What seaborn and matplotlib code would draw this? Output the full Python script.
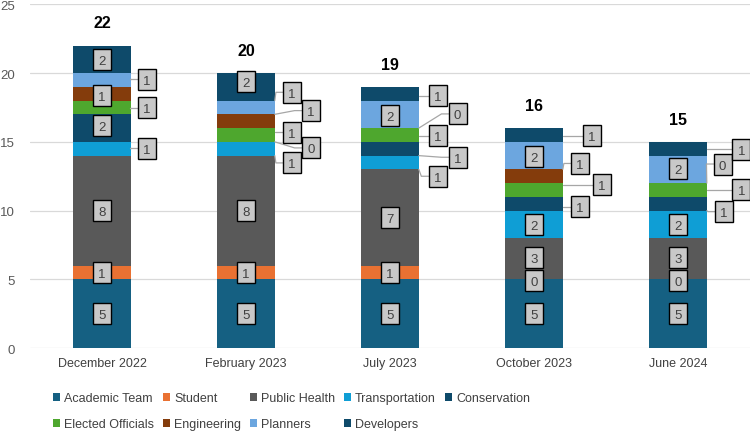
import numpy as np
import matplotlib
matplotlib.use("Agg")
import matplotlib.pyplot as plt
import matplotlib.patches as mpatches
import matplotlib.transforms as mtransforms
import seaborn as sns

# data
months = ["December 2022", "February 2023", "July 2023", "October 2023", "June 2024"]
groups = ["Academic Team", "Student", "Public Health", "Transportation", "Conservation",
          "Elected Officials", "Engineering", "Planners", "Developers"]
academic = [5, 5, 5, 5, 5]
student = [1, 1, 1, 0, 0]
public_health = [8, 8, 7, 3, 3]
transportation = [1, 1, 1, 2, 2]
conservation = [2, 0, 1, 1, 1]
elected = [1, 1, 1, 1, 1]
engineering = [1, 1, 0, 1, 0]
planners = [1, 1, 2, 2, 2]
developers = [2, 2, 1, 1, 1]

colors = ["#156082", "#E97132", "#595959", "#0F9ED5", "#0E4A6A",
          "#4EA72E", "#843C0C", "#6CA6DF", "#0E4A6A"]

# label placement: (x offset from bar centre, y) -- offset 0 means inside the bar
label_pos = [
    [(0, 2.5), (0, 2.5), (0, 2.5), (0, 2.5), (0, 2.5)],
    [(0, 5.5), (0, 5.5), (0, 5.5), (0, 4.9), (0, 4.9)],
    [(0, 10), (0, 10), (0, 9.5), (0, 6.6), (0, 6.6)],
    [(0.31, 14.55), (0.32, 13.47), (0.33, 12.5), (0, 9.0), (0, 9.0)],
    [(0, 16.2), (0.45, 14.56), (0.47, 13.88), (0.32, 10.28), (0.32, 9.93)],
    [(0.31, 17.46), (0.32, 15.68), (0.33, 15.45), (0.47, 11.87), (0.44, 11.53)],
    [(0, 18.4), (0.45, 17.27), (0.47, 17.03), (0.32, 13.43), (0.31, 13.39)],
    [(0.31, 19.55), (0.32, 18.6), (0, 16.9), (0, 13.95), (0, 13.03)],
    [(0, 21), (0, 19.35), (0.33, 18.36), (0.40, 15.45), (0.44, 14.48)],
]

series = [academic, student, public_health, transportation, conservation,
          elected, engineering, planners, developers]
values = np.array(series)
tops = values.cumsum(axis=0)
bottoms = tops - values
totals = values.sum(axis=0)

sns.set_theme(style="white")
plt.rcParams["font.family"] = ["Liberation Sans", "DejaVu Sans"]

fig = plt.figure(figsize=(7.5, 4.35), dpi=100)
ax = fig.add_axes([0.04, 0.197, 0.96, 0.791])

bar_w = 0.4
# stacked bars: draw cumulative heights from the top layer down
for k in range(len(groups) - 1, -1, -1):
    sns.barplot(x=months, y=tops[k], color=colors[k], width=bar_w,
                saturation=1, linewidth=0, ax=ax, zorder=2)

ax.set_ylim(0, 25)
ax.set_xlim(-0.5, 4.5)
ax.set_yticks(range(0, 26, 5))
ax.set_xlabel("")
ax.set_ylabel("")
ax.yaxis.grid(True, color="#D9D9D9", linewidth=0.9, zorder=0)
ax.set_axisbelow(True)
sns.despine(ax=ax, left=True, bottom=True)
ax.tick_params(axis="y", length=0, pad=11, labelsize=9.5, labelcolor="#595959")
ax.tick_params(axis="x", length=0, pad=6, labelsize=9, labelcolor="#404040")

half_w_px, half_h_px = 9, 10.5
box_half = half_w_px / 144.0
for k in range(len(groups)):
    for i in range(len(months)):
        dx, y = label_pos[k][i]
        bx = i + dx
        if dx != 0:
            lo, hi = bottoms[k][i], tops[k][i]
            anchor = min(max(y, lo), hi)
            edge = i + bar_w / 2
            ax.plot([edge, bx - box_half - 0.05, bx - box_half],
                    [anchor, y, y], color="#A6A6A6", linewidth=0.9,
                    zorder=3, clip_on=False)
        trans = mtransforms.ScaledTranslation(bx, y, ax.transData)
        box = mpatches.Rectangle((-half_w_px, -half_h_px), 2 * half_w_px, 2 * half_h_px,
                                 transform=trans, facecolor="#C8C8C8",
                                 edgecolor="black", linewidth=1.0, zorder=4,
                                 clip_on=False)
        ax.add_patch(box)
        ax.text(bx, y, str(values[k][i]), ha="center", va="center_baseline",
                fontsize=9.5, color="#404040", zorder=5, clip_on=False)

for i, tot in enumerate(totals):
    ax.text(i, tot + 1.65, str(tot), ha="center", va="center",
            fontsize=11.5, fontweight="bold", color="black")

# legend fills column by column, so reorder to read row by row like the original
order = [0, 5, 1, 6, 2, 7, 3, 8, 4]
handles = [mpatches.Patch(facecolor=colors[k], edgecolor="none") for k in order]
labels = [groups[k] for k in order]
fig.legend(handles, labels, ncol=5, loc="upper left",
           bbox_to_anchor=(0.062, 0.11), frameon=False, fontsize=9,
           handlelength=0.6, handleheight=0.6, handletextpad=0.3,
           columnspacing=0.7, labelspacing=1.1, borderpad=0,
           labelcolor="#404040")

fig.savefig("out.png", dpi=100)
